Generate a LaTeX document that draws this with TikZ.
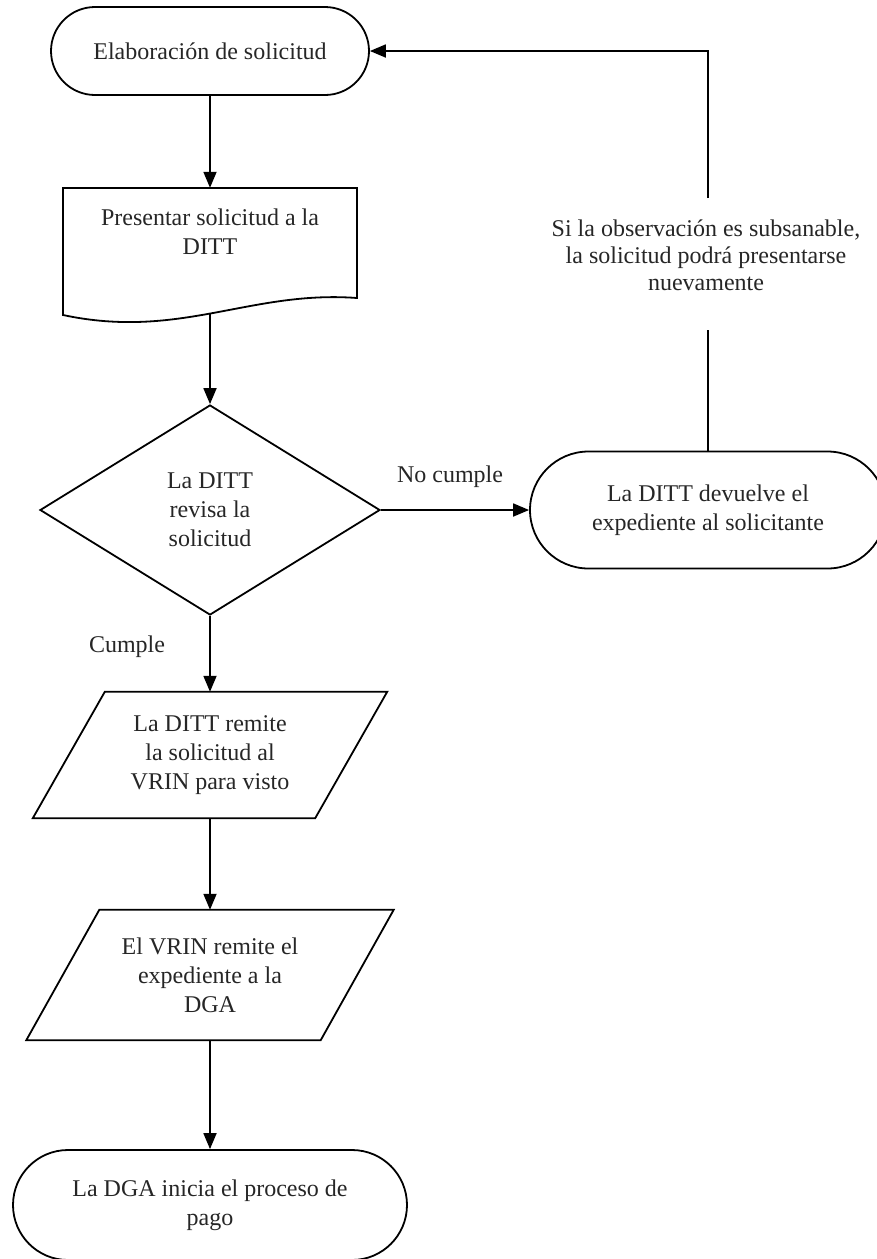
\documentclass[tikz,border=0pt]{standalone}
\usepackage{fontspec}
\setmainfont{Liberation Serif}
\usetikzlibrary{shapes.misc,shapes.geometric,arrows.meta}
\tikzset{
  base/.style={font=\fontsize{24}{29}\selectfont, align=center, text=black!85, inner sep=0pt},
  term/.style={base, draw, line width=1.8pt, rounded rectangle},
  dec/.style={base, draw, line width=1.8pt, diamond, aspect=1.6},
  plain/.style={base, draw=none},
  lbl/.style={base},
  edge/.style={line width=1.8pt},
  arr/.style={edge, -{Triangle[length=16pt,width=13pt]}},
}
\begin{document}
\begin{tikzpicture}[x=1pt,y=-1pt]
\useasboundingbox (0,0) rectangle (876,1259);
% nodes
\node[term, minimum width=318pt, minimum height=88pt] (t1) at (210,51) {Elaboración de solicitud};
\node[plain, minimum width=294pt, minimum height=88pt] (doc) at (210,232) {Presentar solicitud a la\\DITT};
\draw[edge, line join=miter] (63,188) -- (357,188) -- (357,298)
  .. controls (250,290) and (180,340) .. (63,315) -- cycle;
\coordinate (docb) at (210,313);
\node[dec, minimum width=340pt, minimum height=210pt] (d) at (210,510) {La DITT\\revisa la\\solicitud};
\node[term, minimum width=356pt, minimum height=117pt] (t2) at (708,510) {La DITT devuelve el\\expediente al solicitante};
\node[lbl, font=\fontsize{24}{27}\selectfont] (s) at (706,255) {Si la observación es subsanable,\\la solicitud podrá presentarse\\nuevamente};
\coordinate (s1) at (708,198);
\coordinate (s2) at (708,330);
\node[lbl] (nc) at (450,477) {No cumple};
\node[lbl] (cu) at (127,647) {Cumple};
\node[plain, minimum width=282pt, minimum height=126pt] (p1) at (210,755) {La DITT remite\\la solicitud al\\VRIN para visto};
\node[plain, minimum width=294pt, minimum height=130pt] (p2) at (210,975) {El VRIN remite el\\expediente a la\\DGA};
\draw[edge, line join=miter] ([xshift=36pt]p1.north west) -- ([xshift=36pt]p1.north east) -- ([xshift=-36pt]p1.south east) -- ([xshift=-36pt]p1.south west) -- cycle;
\draw[edge, line join=miter] ([xshift=36.5pt]p2.north west) -- ([xshift=36.5pt]p2.north east) -- ([xshift=-36.5pt]p2.south east) -- ([xshift=-36.5pt]p2.south west) -- cycle;
\node[term, minimum width=394pt, minimum height=110pt] (t3) at (210,1205) {La DGA inicia el proceso de\\pago};
% connectors
\draw[arr] (t1.south) -- (doc.north);
\draw[arr] (docb) -- (d.north);
\draw[arr] (d.east) -- (t2.west);
\draw[edge] (t2.north) -- (s2);
\draw[arr] (s1) |- (t1.east);
\draw[arr] (d.south) -- (p1.north);
\draw[arr] (p1.south) -- (p2.north);
\draw[arr] (p2.south) -- (t3.north);
\end{tikzpicture}
\end{document}
